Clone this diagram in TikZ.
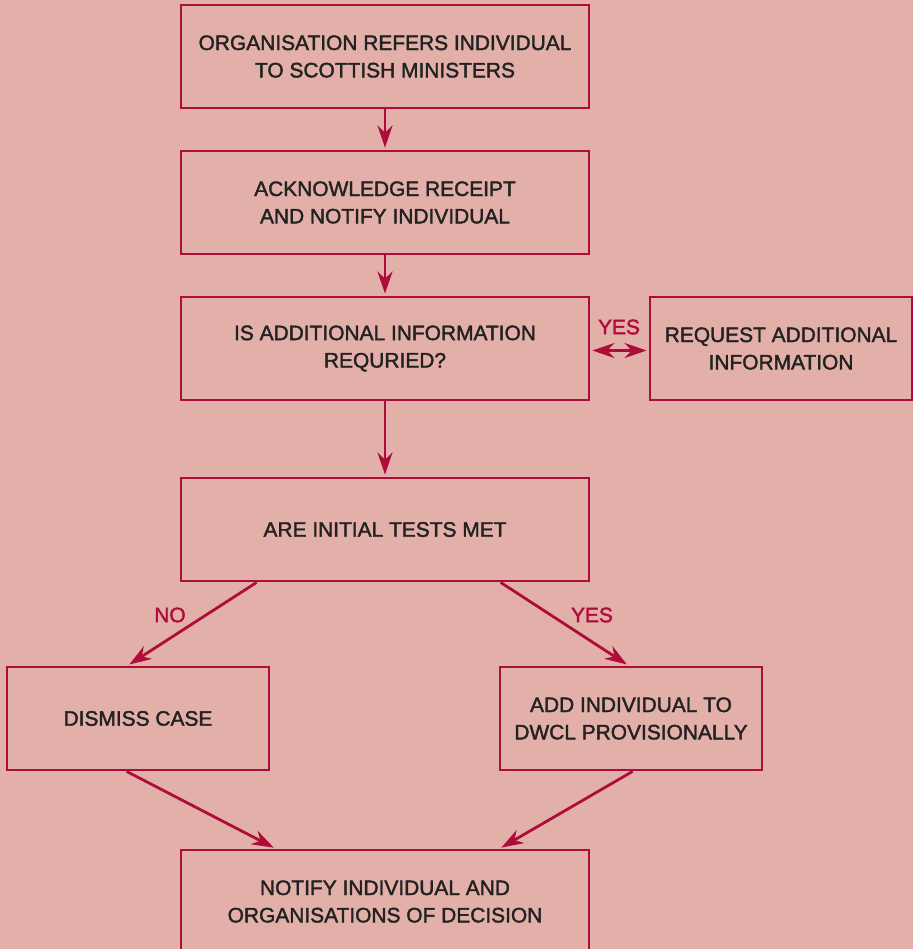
\documentclass[tikz,border=0pt]{standalone}
\usepackage{fontspec}
\setmainfont{Liberation Sans}[FakeBold=1.8]
\usetikzlibrary{arrows.meta,positioning}
\definecolor{bgpink}{HTML}{E3AFA9}
\definecolor{crimson}{HTML}{AE0C3A}
\definecolor{inkgray}{HTML}{222222}
\tikzset{
  tipshape/.tip={Stealth[length=22bp,width=15bp,inset=7bp]},
  flowbox/.style={draw=crimson, line width=2.8bp, fill=none, align=center,
    text=inkgray, font=\fontsize{21}{27.5}\selectfont,
    minimum height=103bp, inner sep=0pt},
  widebox/.style={flowbox, minimum width=408bp},
  sidebox/.style={flowbox, minimum width=262bp},
  flowarrow/.style={draw=crimson, line width=2.8bp, shorten >=2bp, -tipshape},
  flowlabel/.style={text=crimson, font=\fontsize{21}{24}\selectfont, inner sep=0pt}
}
\begin{document}
\begin{tikzpicture}[x=1bp,y=-1bp]
  \fill[bgpink] (0,0) rectangle (913,949);
  \useasboundingbox (0,0) rectangle (913,949);

  \node[widebox] (refer) at (385,56.5) {ORGANISATION REFERS INDIVIDUAL\\TO SCOTTISH MINISTERS};
  \node[widebox] (ack) at (385,202.5) {ACKNOWLEDGE RECEIPT\\AND NOTIFY INDIVIDUAL};
  \node[widebox] (info) at (385,348.5) {IS ADDITIONAL INFORMATION\\REQURIED?};
  \node[sidebox] (request) at (781,348.5) {REQUEST ADDITIONAL\\INFORMATION};
  \node[widebox] (tests) at (385,529.5) {ARE INITIAL TESTS MET};
  \node[sidebox] (dismiss) at (138,718.5) {DISMISS CASE};
  \node[sidebox] (add) at (631,718.5) {ADD INDIVIDUAL TO\\DWCL PROVISIONALLY};
  \node[widebox] (notify) at (385,901.5) {NOTIFY INDIVIDUAL AND\\ORGANISATIONS OF DECISION};

  \draw[flowarrow] (refer) -- (ack);
  \draw[flowarrow] (ack) -- (info);
  \draw[flowarrow] (info) -- (tests);
  \draw[flowarrow, shorten <=2bp, tipshape-tipshape]
    ([yshift=-2bp]info.east) -- ([yshift=-2bp]request.west);
  \node[flowlabel] (yesinfo) at (619,327) {YES};

  \draw[flowarrow] ([xshift=77bp]tests.south west) -- ([xshift=122bp]dismiss.north west);
  \node[flowlabel] (no) at (170,615) {NO};
  \draw[flowarrow] ([xshift=321bp]tests.south west) -- ([xshift=130bp]add.north west);
  \node[flowlabel] (yestests) at (592,615) {YES};

  \draw[flowarrow] ([xshift=121bp]dismiss.south west) -- ([xshift=96bp]notify.north west);
  \draw[flowarrow] ([xshift=134bp]add.south west) -- ([xshift=320bp]notify.north west);
\end{tikzpicture}
\end{document}
